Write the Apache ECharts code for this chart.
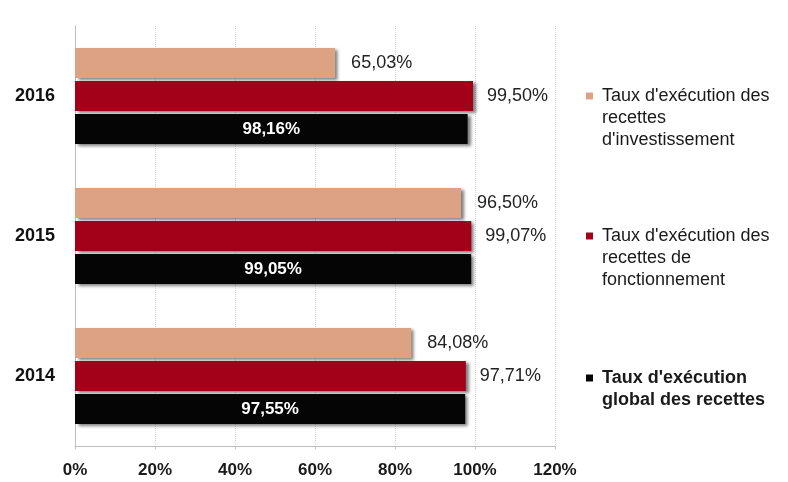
<!DOCTYPE html>
<html>
<head>
<meta charset="utf-8">
<script src="https://cdn.jsdelivr.net/npm/echarts@6/dist/echarts.min.js"></script>
<style>
  html, body { margin: 0; padding: 0; background: #fff; }
  #chart { width: 788px; height: 482px; }
</style>
</head>
<body>
<div id="chart"></div>
<script>
// Taux d'exécution des recettes, 2014–2016 (en %)
const years = ['2014', '2015', '2016'];
const seriesNames = [
  "Taux d'exécution des recettes d'investissement",
  "Taux d'exécution des recettes de fonctionnement",
  "Taux d'exécution global des recettes"
];
const legendLines = [
  ["Taux d'exécution des", "recettes", "d'investissement"],
  ["Taux d'exécution des", "recettes de", "fonctionnement"],
  ["Taux d'exécution", "global des recettes"]
];
const investissement = [84.08, 96.50, 65.03];
const fonctionnement = [97.71, 99.07, 99.50];
const global = [97.55, 99.05, 98.16];
const xTicks = [0, 20, 40, 60, 80, 100, 120];

const colors = ['#dba283', '#a3001a', '#050505'];
const FONT = 'Liberation Sans, Arial, sans-serif';
const LH = 22;

const fmtPct = v => v.toFixed(2).replace('.', ',') + '%';

const shadow = {
  shadowColor: 'rgba(0,0,0,0.5)',
  shadowBlur: 3,
  shadowOffsetX: 3,
  shadowOffsetY: 2
};

// Legend text is centred on its marker; leading blank lines push the
// first line level with the marker.
function legendFor(i, top) {
  const lines = legendLines[i];
  return {
    data: [seriesNames[i]],
    orient: 'vertical',
    left: 581,
    top: top,
    icon: 'rect',
    itemWidth: 7,
    itemHeight: 7,
    selectedMode: false,
    formatter: () => '\n'.repeat(lines.length - 1) + lines.join('\n'),
    textStyle: {
      fontFamily: FONT,
      fontSize: 18,
      lineHeight: LH,
      color: '#1a1a1a',
      fontWeight: i === 2 ? 'bold' : 'normal',
      padding: [0, 0, 0, 4]
    }
  };
}

const chart = echarts.init(document.getElementById('chart'), null, { renderer: 'canvas' });

chart.setOption({
  animation: false,
  backgroundColor: '#fff',
  color: colors,
  grid: { left: 75, right: 233, top: 26, bottom: 36, containLabel: false },
  legend: [legendFor(0, 36), legendFor(1, 176), legendFor(2, 340)],
  xAxis: {
    type: 'value',
    min: 0,
    max: 120,
    interval: 20,
    axisLine: { show: true, lineStyle: { color: '#bdbdbd', width: 1 } },
    axisTick: { show: true, length: 3, lineStyle: { color: '#bdbdbd' } },
    splitLine: { show: true, lineStyle: { color: '#d4d4d4', type: 'dotted', width: 1 } },
    axisLabel: {
      formatter: v => (xTicks.includes(v) ? v + '%' : ''),
      fontFamily: FONT,
      fontSize: 17,
      fontWeight: 'bold',
      color: '#1a1a1a',
      margin: 16
    }
  },
  yAxis: {
    type: 'category',
    data: years,
    axisLine: { show: true, lineStyle: { color: '#bdbdbd', width: 1 } },
    axisTick: { show: false },
    axisLabel: {
      fontFamily: FONT,
      fontSize: 18,
      fontWeight: 'bold',
      color: '#111',
      margin: 20
    }
  },
  series: [
    {
      name: seriesNames[0],
      type: 'bar',
      data: investissement,
      barWidth: 30,
      barGap: '10%',
      itemStyle: Object.assign({ color: colors[0] }, shadow),
      label: {
        show: true, position: 'right', distance: 16,
        formatter: p => fmtPct(p.value),
        fontFamily: FONT, fontSize: 18, color: '#222'
      }
    },
    {
      name: seriesNames[1],
      type: 'bar',
      data: fonctionnement,
      barWidth: 30,
      barGap: '10%',
      itemStyle: Object.assign({ color: colors[1] }, shadow),
      label: {
        show: true, position: 'right', distance: 14,
        formatter: p => fmtPct(p.value),
        fontFamily: FONT, fontSize: 18, color: '#222'
      }
    },
    {
      name: seriesNames[2],
      type: 'bar',
      data: global,
      barWidth: 30,
      barGap: '10%',
      itemStyle: Object.assign({ color: colors[2] }, shadow),
      label: {
        show: true, position: 'inside',
        formatter: p => fmtPct(p.value),
        fontFamily: FONT, fontSize: 17, fontWeight: 'bold', color: '#fff'
      }
    }
  ]
});
</script>
</body>
</html>
